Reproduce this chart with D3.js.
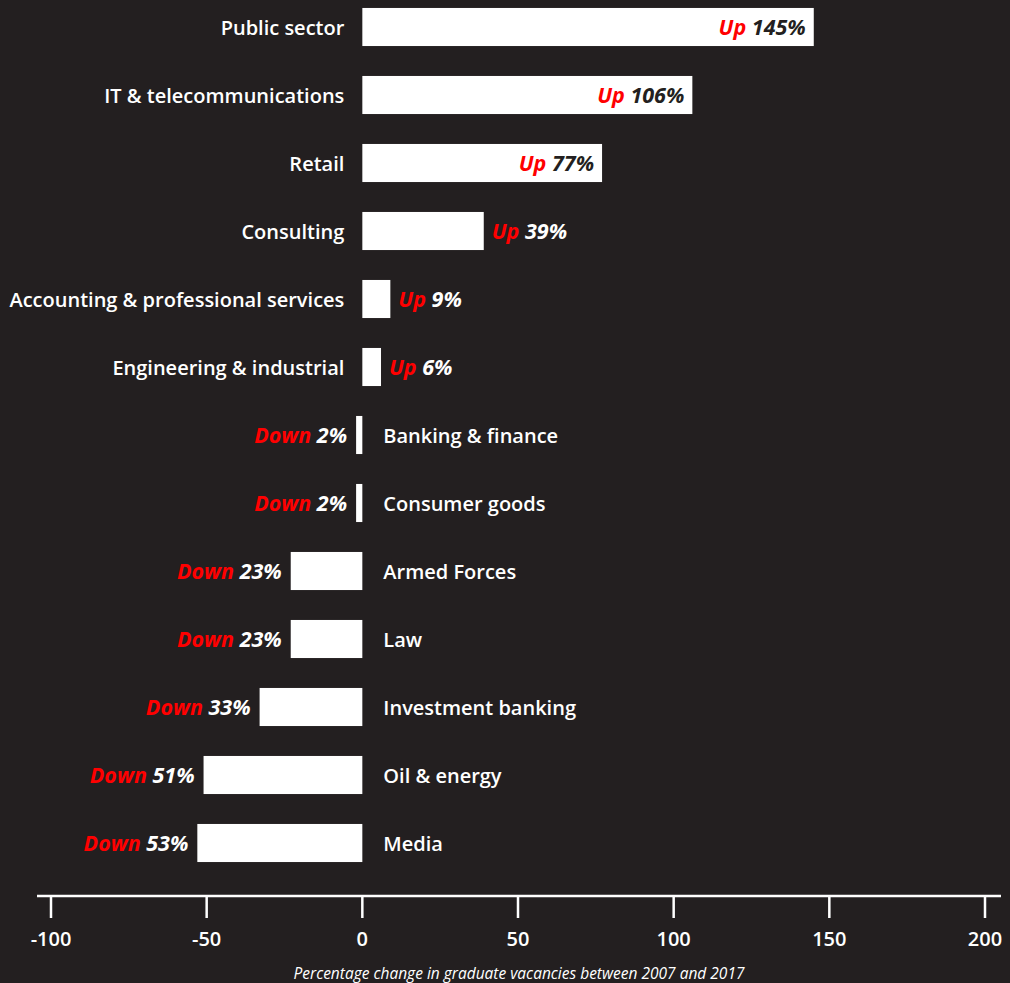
<!DOCTYPE html>
<html>
<head>
<meta charset="utf-8">
<script src="https://cdn.jsdelivr.net/npm/d3@7"></script>
<style>
  html, body { margin: 0; padding: 0; background: #231f20; }
  svg { display: block; }
  text { font-family: "Open Sans", "Noto Sans", sans-serif; }
</style>
</head>
<body>
<svg id="chart" width="1010" height="983"></svg>
<script>
// Sectors and percentage change in graduate vacancies, 2007 to 2017
const sectors = [
  "Public sector", "IT & telecommunications", "Retail", "Consulting",
  "Accounting & professional services", "Engineering & industrial",
  "Banking & finance", "Consumer goods", "Armed Forces", "Law",
  "Investment banking", "Oil & energy", "Media"
];
const changes = [145, 106, 77, 39, 9, 6, -2, -2, -23, -23, -33, -51, -53];
const tickValues = [-100, -50, 0, 50, 100, 150, 200];
const axisTitle = "Percentage change in graduate vacancies between 2007 and 2017";

const bg = "#231f20", red = "#ff0000", white = "#ffffff";
const svg = d3.select("#chart");

const x = d3.scaleLinear().domain([-100, 200]).range([51, 985]);
const y = d3.scaleBand().domain(sectors).range([-7, 877])
  .paddingInner(0.44).paddingOuter(0.22);

const data = sectors.map((s, i) => ({ sector: s, value: changes[i] }));

// bars
svg.append("g").selectAll("rect").data(data).join("rect")
  .attr("x", d => x(Math.min(0, d.value)))
  .attr("y", d => y(d.sector))
  .attr("width", d => Math.abs(x(d.value) - x(0)))
  .attr("height", y.bandwidth())
  .attr("fill", white);

// sector names: left of axis for gains, right of axis for losses
svg.append("g").selectAll("text").data(data).join("text")
  .attr("x", d => d.value >= 0 ? x(0) - 18 : x(0) + 21)
  .attr("y", d => y(d.sector) + y.bandwidth() / 2)
  .attr("dy", "0.38em")
  .attr("text-anchor", d => d.value >= 0 ? "end" : "start")
  .attr("fill", white)
  .style("font-size", "20px")
  .style("font-weight", 600)
  .text(d => d.sector);

// value labels: inside long bars, outside short ones
const insideMin = 60;
svg.append("g").selectAll("text").data(data).join("text")
  .attr("y", d => y(d.sector) + y.bandwidth() / 2)
  .attr("dy", "0.36em")
  .style("font-size", "21.5px")
  .style("font-weight", 700)
  .style("font-style", "italic")
  .each(function (d) {
    const t = d3.select(this);
    const inside = d.value >= insideMin;
    if (d.value >= 0) {
      t.attr("x", inside ? x(d.value) - 8 : x(d.value) + 8)
       .attr("text-anchor", inside ? "end" : "start");
    } else {
      t.attr("x", x(d.value) - 9).attr("text-anchor", "end");
    }
    t.append("tspan").attr("fill", red)
      .text(d.value >= 0 ? "Up" : "Down");
    t.append("tspan").attr("fill", inside ? bg : white)
      .text(" " + Math.abs(d.value) + "%");
  });

// axis
const axisY = 896;
const axis = svg.append("g").attr("transform", `translate(0,${axisY})`);
axis.append("line")
  .attr("x1", 37).attr("x2", 1001)
  .attr("stroke", white).attr("stroke-width", 2.5);
axis.selectAll("line.tick").data(tickValues).join("line")
  .attr("class", "tick")
  .attr("x1", d => x(d)).attr("x2", d => x(d))
  .attr("y1", 0).attr("y2", 22)
  .attr("stroke", white).attr("stroke-width", 2.5);
axis.selectAll("text").data(tickValues).join("text")
  .attr("x", d => x(d))
  .attr("y", 43)
  .attr("dy", "0.36em")
  .attr("text-anchor", "middle")
  .attr("fill", white)
  .style("font-size", "20px")
  .style("font-weight", 600)
  .text(d => d);

svg.append("text")
  .attr("x", 519).attr("y", 979)
  .attr("text-anchor", "middle")
  .attr("fill", white)
  .style("font-size", "15.5px")
  .style("font-style", "italic")
  .text(axisTitle);
</script>
</body>
</html>
